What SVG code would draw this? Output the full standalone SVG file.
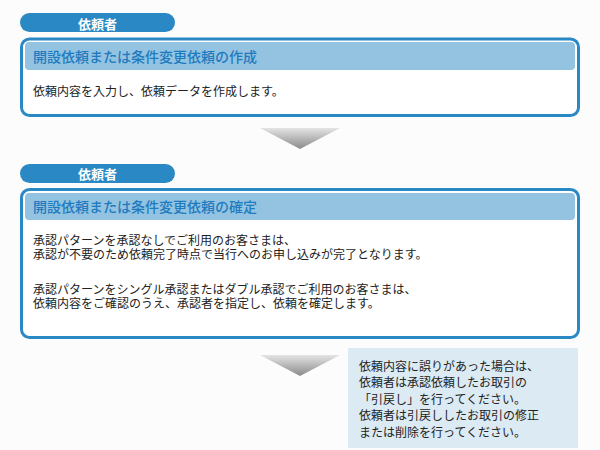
<svg xmlns="http://www.w3.org/2000/svg" width="600" height="450" viewBox="0 0 600 450">
<defs>
<linearGradient id="arrowGrad" x1="0" y1="0" x2="0" y2="1">
<stop offset="0" stop-color="#e4e4e4"/>
<stop offset="1" stop-color="#8a8a8a"/>
</linearGradient>
<style>
.pill{fill:#2a88c4}
.pilltxt{fill:#ffffff;font-family:"Noto Sans CJK JP","Noto Sans",sans-serif;font-size:13px;font-weight:bold}
.box{fill:#ffffff;stroke:#2a88c4;stroke-width:3}
.band{fill:#93c3e1}
.head{fill:#1f7bbf;font-family:"Noto Sans CJK JP","Noto Sans",sans-serif;font-size:14px;font-weight:500}
.body{fill:#222222;font-family:"Noto Sans CJK JP","Noto Sans",sans-serif;font-size:12px}
.arrow{fill:url(#arrowGrad)}
.note{fill:#dbeaf3}
</style>
</defs>
<rect width="600" height="450" fill="#fcfcfc"/>

<g id="step1">
<rect class="pill" x="20" y="13" width="155" height="19" rx="9.5"/>
<text class="pilltxt" x="97.5" y="28.5" text-anchor="middle">依頼者</text>
<rect class="box" x="21.5" y="39" width="557" height="76.5" rx="8"/>
<rect class="band" x="25" y="42" width="550" height="28" rx="4"/>
<text class="head" x="33" y="61.5">開設依頼または条件変更依頼の作成</text>
<text class="body" x="33" y="96">依頼内容を入力し、依頼データを作成します。</text>
</g>

<g id="step2">
<rect class="pill" x="20" y="164" width="155" height="19" rx="9.5"/>
<text class="pilltxt" x="97.5" y="179" text-anchor="middle">依頼者</text>
<rect class="box" x="21.5" y="189.5" width="557" height="148" rx="8"/>
<rect class="band" x="25" y="193" width="550" height="27" rx="4"/>
<text class="head" x="33" y="211.5">開設依頼または条件変更依頼の確定</text>
<text class="body"><tspan x="33" y="244.5">承認パターンを承認なしでご利用のお客さまは、</tspan><tspan x="33" y="258.5">承認が不要のため依頼完了時点で当行へのお申し込みが完了となります。</tspan></text>
<text class="body"><tspan x="33" y="294">承認パターンをシングル承認またはダブル承認でご利用のお客さまは、</tspan><tspan x="33" y="308">依頼内容をご確認のうえ、承認者を指定し、依頼を確定します。</tspan></text>
</g>

<g id="note">
<rect class="note" x="348" y="348" width="230" height="100"/>
<text class="body"><tspan x="359" y="370.5">依頼内容に誤りがあった場合は、</tspan><tspan x="359" y="387">依頼者は承認依頼したお取引の</tspan><tspan x="359" y="403.5">「引戻し」を行ってください。</tspan><tspan x="359" y="420">依頼者は引戻ししたお取引の修正</tspan><tspan x="359" y="436.5">または削除を行ってください。</tspan></text>
</g>

<g id="connectors">
<polygon class="arrow" points="260,128 340,128 300,149"/>
<polygon class="arrow" points="260,355 340,355 300,376"/>
</g>
</svg>
